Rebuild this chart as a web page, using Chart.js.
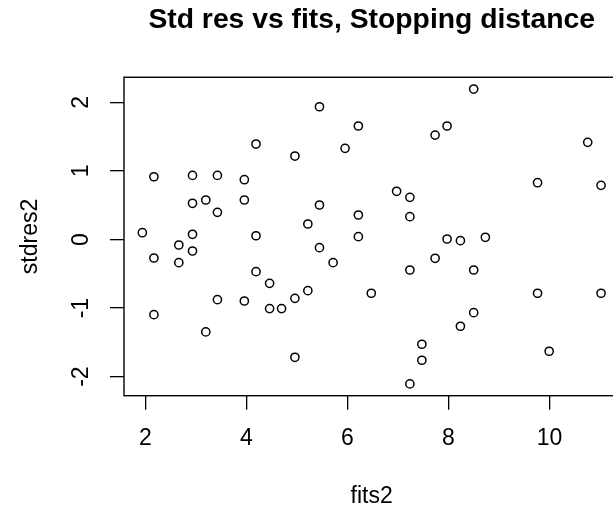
<!DOCTYPE html>
<html>
<head>
<meta charset="utf-8">
<script src="https://cdn.jsdelivr.net/npm/chart.js@4.4.1/dist/chart.umd.min.js"></script>
<style>
html,body{margin:0;padding:0;overflow:hidden;background:#fff;}
#wrap{width:625px;height:512px;position:relative;}
</style>
</head>
<body>
<div id="wrap"><canvas id="c"></canvas></div>
<script>
const chartTitle = "Std res vs fits, Stopping distance";
const xLabel = "fits2";
const yLabel = "stdres2";
const xTicks = [2, 4, 6, 8, 10];
const yTicks = [-2, -1, 0, 1, 2];
const fits2 = [
  5.447, 6.217, 4.191, 4.961, 5.954, 2.170, 2.934, 3.427, 3.960, 2.934,
  3.197, 3.427, 3.960, 5.447, 5.217, 6.217, 1.941, 2.934, 4.191, 6.217,
  8.500, 7.973, 7.736, 10.757, 9.764, 11.021, 6.974, 7.237, 7.237, 2.663,
  2.934, 2.170, 2.663, 5.447, 5.717, 4.191, 4.460, 3.427, 3.960, 4.460,
  4.697, 4.961, 5.217, 2.170, 3.197, 4.961, 7.973, 8.237, 8.731, 7.736,
  7.237, 8.500, 6.473, 9.764, 11.021, 8.500, 8.237, 7.474, 7.474, 9.994,
  7.237
];
const stdres2 = [
  1.936, 1.655, 1.392, 1.217, 1.329, 0.915, 0.935, 0.935, 0.872, 0.528,
  0.576, 0.396, 0.576, 0.503, 0.226, 0.357, 0.099, 0.076, 0.055, 0.041,
  2.194, 1.655, 1.523, 1.417, 0.828, 0.790, 0.703, 0.615, 0.333, -0.080,
  -0.168, -0.270, -0.338, -0.119, -0.338, -0.469, -0.639, -0.877, -0.897, -1.008,
  -1.008, -0.858, -0.746, -1.096, -1.348, -1.718, 0.007, -0.017, 0.032, -0.274,
  -0.445, -0.445, -0.784, -0.784, -0.784, -1.067, -1.265, -1.528, -1.761, -1.630,
  -2.106
];

function padRange(arr) {
  const mn = Math.min(...arr), mx = Math.max(...arr);
  const d = (mx - mn) * 0.04;
  return [mn - d, mx + d];
}
const [xMin, xMax] = padRange(fits2);
const [yMin, yMax] = padRange(stdres2);

const points = fits2.map((x, i) => ({x: x, y: stdres2[i]}));

const FONT = "'Liberation Sans', Arial, Helvetica, sans-serif";

const boxPlugin = {
  id: 'box',
  afterDatasetsDraw(chart) {
    const {ctx, chartArea: a} = chart;
    ctx.save();
    ctx.strokeStyle = '#000';
    ctx.lineWidth = 1.4;
    ctx.strokeRect(a.left, a.top, a.right - a.left, a.bottom - a.top);
    ctx.restore();
  }
};

new Chart(document.getElementById('c'), {
  type: 'scatter',
  data: {
    datasets: [{
      data: points,
      pointStyle: 'circle',
      pointRadius: 4.1,
      pointHoverRadius: 4.1,
      pointBorderWidth: 1.5,
      pointBorderColor: '#000',
      pointBackgroundColor: 'rgba(0,0,0,0)'
    }]
  },
  options: {
    responsive: true,
    maintainAspectRatio: false,
    animation: false,
    events: [],
    layout: {padding: {left: 0, top: 0, right: 4, bottom: 0}},
    plugins: {
      legend: {display: false},
      tooltip: {enabled: false},
      title: {
        display: true,
        text: chartTitle,
        fullSize: false,
        color: '#000',
        font: {family: FONT, size: 28.3, weight: 'bold', lineHeight: 1.2},
        padding: {top: 3.5, bottom: 39.8}
      }
    },
    scales: {
      x: {
        type: 'linear',
        position: 'bottom',
        min: xMin,
        max: xMax,
        afterBuildTicks: s => { s.ticks = xTicks.map(v => ({value: v})); },
        afterFit: s => { s.height = 116.3; },
        ticks: {
          includeBounds: false,
          color: '#000',
          padding: 15.4,
          font: {family: FONT, size: 23, lineHeight: 1.2},
          maxRotation: 0,
          autoSkip: false,
          callback: v => String(v)
        },
        grid: {drawOnChartArea: false, drawTicks: true, tickLength: 14, color: '#000', lineWidth: 1.3},
        border: {display: false},
        title: {
          display: true,
          text: xLabel,
          color: '#000',
          font: {family: FONT, size: 23, lineHeight: 1.2},
          padding: {top: 0, bottom: 1.2}
        }
      },
      y: {
        type: 'linear',
        position: 'left',
        min: yMin,
        max: yMax,
        afterBuildTicks: s => { s.ticks = yTicks.map(v => ({value: v})); },
        afterFit: s => { s.width = 124; },
        ticks: {
          includeBounds: false,
          color: '#000',
          padding: 18.3,
          minRotation: 90,
          maxRotation: 90,
          crossAlign: 'center',
          autoSkip: false,
          font: {family: FONT, size: 23, lineHeight: 1.2},
          callback: v => String(v)
        },
        grid: {drawOnChartArea: false, drawTicks: true, tickLength: 14, color: '#000', lineWidth: 1.3},
        border: {display: false},
        title: {
          display: true,
          text: yLabel,
          color: '#000',
          font: {family: FONT, size: 23, lineHeight: 1.2},
          padding: {top: 16.5, bottom: 0}
        }
      }
    }
  },
  plugins: [boxPlugin]
});
</script>
</body>
</html>
